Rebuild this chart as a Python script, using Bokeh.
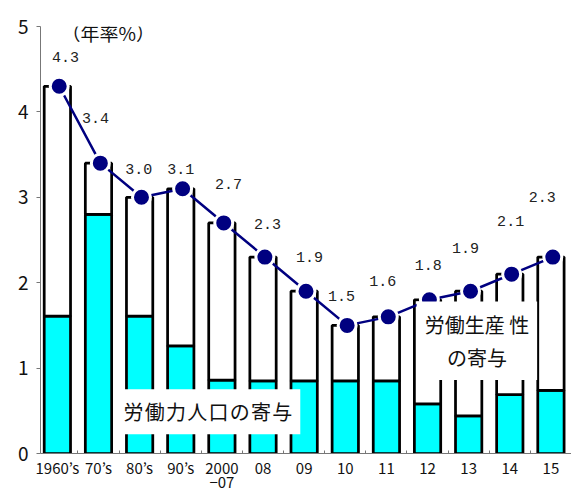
from bokeh.plotting import figure
from bokeh.models import Range1d, FixedTicker, Label, ColumnDataSource
from bokeh.transform import dodge
from bokeh.embed import file_html
from bokeh.resources import INLINE
from bokeh.core.properties import value

# Real GDP growth (annual %), split into labour-input and productivity contributions
periods = ["1960’s", "70’s", "80’s", "90’s", "2000\n−07", "08", "09", "10", "11", "12", "13", "14", "15"]
growth = [4.3, 3.4, 3.0, 3.1, 2.7, 2.3, 1.9, 1.5, 1.6, 1.8, 1.9, 2.1, 2.3]
labor = [1.61, 2.80, 1.61, 1.26, 0.86, 0.85, 0.85, 0.85, 0.85, 0.58, 0.44, 0.69, 0.74]
y_ticks = [0, 1, 2, 3, 4, 5]

# nudges for the value labels: category units sideways, growth units upward
label_dx = [0.20, -0.07, -0.02, 0.0, 0.16, 0.11, 0.13, -0.09, -0.09, 0.02, -0.08, 0.02, -0.21]
label_dy = [0.34, 0.53, 0.33, 0.23, 0.45, 0.39, 0.40, 0.35, 0.42, 0.41, 0.51, 0.62, 0.70]

JP = "Noto Sans CJK JP"
idx = list(range(len(periods)))
src = ColumnDataSource(dict(
    x=idx,
    growth=growth,
    labor=labor,
    lx=[i + d for i, d in zip(idx, label_dx)],
    ly=[g + d for g, d in zip(growth, label_dy)],
    txt=[f"{g:.1f}" for g in growth],
))

p = figure(width=571, height=495,
           x_range=Range1d(-0.41, 12.5), y_range=Range1d(0, 5),
           output_backend="svg", toolbar_location=None,
           min_border_left=40, min_border_right=0,
           min_border_top=26, min_border_bottom=39)
p.outline_line_color = None
p.xgrid.visible = False
p.ygrid.visible = False

# stacked bars: labour input (cyan) below, productivity (white) above
p.vbar(x="x", width=0.64, bottom=0, top="labor", source=src,
       fill_color="#00FFFF", line_color="black", line_width=2.75)
p.vbar(x="x", width=0.64, bottom="labor", top="growth", source=src,
       fill_color="white", line_color="black", line_width=2.75)

# total growth line with markers
p.line(x=dodge("x", 0.045), y="growth", source=src,
       line_color="#000080", line_width=2.5)
p.scatter(x=dodge("x", 0.045), y="growth", source=src, size=18,
          fill_color="#000080", line_color="white", line_width=3)

p.text(x="lx", y="ly", text="txt", source=src,
       text_font=value("Liberation Mono"), text_font_size="15px",
       text_align="center", text_baseline="middle", text_color="#222222")

# axes
p.yaxis.ticker = FixedTicker(ticks=y_ticks)
p.yaxis.minor_tick_line_color = None
p.yaxis.major_tick_in = 0
p.yaxis.major_tick_out = 4
p.yaxis.axis_line_color = "#777777"
p.yaxis.major_tick_line_color = "#777777"
p.yaxis.major_label_text_font = JP
p.yaxis.major_label_text_font_size = "19px"
p.yaxis.major_label_text_color = "#111111"
p.yaxis.major_label_standoff = 8

p.xaxis.ticker = FixedTicker(ticks=idx, minor_ticks=[i + 0.5 for i in idx[:-1]])
p.xaxis.major_label_overrides = {i: lab for i, lab in enumerate(periods)}
p.xaxis.major_tick_line_color = None
p.xaxis.major_tick_in = 0
p.xaxis.major_tick_out = 0
p.xaxis.minor_tick_in = 3
p.xaxis.minor_tick_out = 0
p.xaxis.minor_tick_line_color = "#777777"
p.xaxis.axis_line_color = "#777777"
p.xaxis.major_label_text_font = JP
p.xaxis.major_label_text_font_size = "15px"
p.xaxis.major_label_text_line_height = 0.7
p.xaxis.major_label_text_color = "#111111"
p.xaxis.major_label_standoff = 3

p.add_layout(Label(x=0.1, y=4.93, text="（年率%）", text_font=JP, text_font_size="19px",
                   text_color="#111111", text_align="left", text_baseline="middle"))

p.add_layout(Label(x=3.66, y=0.49, text="\u200a".join("労働力人口の寄与"),
                   text_font=JP, text_font_size="20px", text_color="#111111",
                   text_align="center", text_baseline="middle",
                   background_fill_color="white", padding=8))

p.add_layout(Label(x=10.2, y=1.32, text="労働生産 性\nの寄与",
                   text_font=JP, text_font_size="20px", text_color="#111111",
                   text_align="center", text_baseline="middle", text_line_height=1.15,
                   background_fill_color="white", padding=8))

open("out.html", "w").write(file_html(p, INLINE))
